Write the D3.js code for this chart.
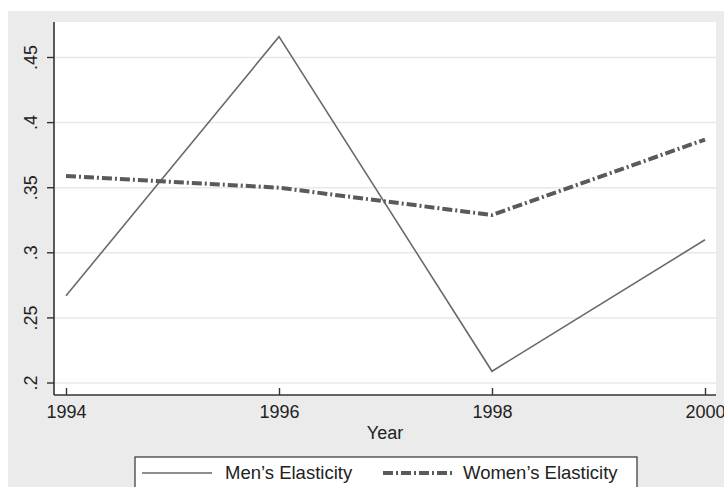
<!DOCTYPE html>
<html>
<head>
<meta charset="utf-8">
<script src="https://cdn.jsdelivr.net/npm/d3@7"></script>
<style>
  body { margin: 0; background: #fff; }
  text { font-family: "Liberation Sans", Arial, sans-serif; fill: #222; }
</style>
</head>
<body>
<div class="chart"></div>
<script>
// data
var years = [1994, 1996, 1998, 2000];
var menElasticity = [0.267, 0.466, 0.209, 0.310];
var womenElasticity = [0.359, 0.350, 0.329, 0.387];
var yTicks = [0.2, 0.25, 0.3, 0.35, 0.4, 0.45];
var yTickLabels = [".2", ".25", ".3", ".35", ".4", ".45"];
var seriesNames = ["Men\u2019s Elasticity", "Women\u2019s Elasticity"];

var svgWidth = 724;
var svgHeight = 487;

// plot region
var plot = { left: 54, right: 716, top: 22, bottom: 395 };

var svg = d3.select(".chart")
  .append("svg")
  .attr("width", svgWidth)
  .attr("height", svgHeight);

// outer gray background
svg.append("rect")
  .attr("x", 8)
  .attr("y", 11)
  .attr("width", svgWidth - 8)
  .attr("height", svgHeight - 11)
  .attr("fill", "#ebebeb");

// white plot area
svg.append("rect")
  .attr("x", plot.left)
  .attr("y", plot.top)
  .attr("width", plot.right - plot.left)
  .attr("height", plot.bottom - plot.top)
  .attr("fill", "#ffffff");

var x = d3.scaleLinear()
  .domain([1994, 2000])
  .range([66, 705]);

var y = d3.scaleLinear()
  .domain([0.2, 0.45])
  .range([383, 57.5]);

// grid lines
svg.append("g")
  .selectAll("line")
  .data(yTicks)
  .enter()
  .append("line")
  .attr("x1", plot.left)
  .attr("x2", plot.right)
  .attr("y1", d => y(d))
  .attr("y2", d => y(d))
  .attr("stroke", "#e8e8e8")
  .attr("stroke-width", 1.5);

// y axis
var leftAxis = d3.axisLeft(y)
  .tickValues(yTicks)
  .tickFormat((d, i) => yTickLabels[i])
  .tickSize(7)
  .tickSizeOuter(0)
  .tickPadding(6);

var yAxis = svg.append("g")
  .attr("transform", `translate(${plot.left}, 0)`)
  .call(leftAxis);

yAxis.select(".domain")
  .attr("d", `M0,${plot.top}V${plot.bottom}`);

// rotated labels: place each around its tick
yAxis.selectAll(".tick")
  .each(function(d) {
    var t = d3.select(this);
    var yy = y(d);
    t.attr("transform", null);
    t.select("line").attr("y1", yy).attr("y2", yy);
    t.select("text")
      .attr("transform", `translate(-17, ${yy}) rotate(-90)`)
      .attr("x", 0)
      .attr("y", 0)
      .attr("dy", 0)
      .attr("text-anchor", "middle");
  });

// x axis
var bottomAxis = d3.axisBottom(x)
  .tickValues(years)
  .tickFormat(d3.format("d"))
  .tickSize(7)
  .tickSizeOuter(0)
  .tickPadding(3);

var xAxis = svg.append("g")
  .attr("transform", `translate(0, ${plot.bottom})`)
  .call(bottomAxis);

xAxis.select(".domain")
  .attr("d", `M${plot.left},0H${plot.right}`);

xAxis.selectAll(".tick line")
  .attr("y1", -7)
  .attr("y2", 0);

[yAxis, xAxis].forEach(function(ax) {
  ax.selectAll(".domain")
    .attr("stroke", "#333")
    .attr("stroke-width", 1.6);
  ax.selectAll(".tick line")
    .attr("stroke", "#333")
    .attr("stroke-width", 1.4);
  ax.selectAll("text")
    .attr("font-size", "18px")
    .attr("fill", "#222")
    .style("font-family", "'Liberation Sans', Arial, sans-serif");
});

xAxis.selectAll("text").attr("dy", "0.71em");

// axis title
svg.append("text")
  .attr("x", (plot.left + plot.right) / 2)
  .attr("y", 439)
  .attr("text-anchor", "middle")
  .attr("font-size", "18px")
  .text("Year");

// lines
var line = d3.line()
  .x((d, i) => x(years[i]))
  .y(d => y(d));

svg.append("path")
  .datum(menElasticity)
  .attr("d", line)
  .attr("fill", "none")
  .attr("stroke", "#6a6a6a")
  .attr("stroke-width", 1.6);

svg.append("path")
  .datum(womenElasticity)
  .attr("d", line)
  .attr("fill", "none")
  .attr("stroke", "#5a5a5a")
  .attr("stroke-width", 4)
  .attr("stroke-dasharray", "10,3,2,3");

// legend
var legend = svg.append("g");

legend.append("rect")
  .attr("x", 135)
  .attr("y", 457)
  .attr("width", 502)
  .attr("height", 40)
  .attr("fill", "#ffffff")
  .attr("stroke", "#333")
  .attr("stroke-width", 1.2);

legend.append("line")
  .attr("x1", 142)
  .attr("x2", 212)
  .attr("y1", 473)
  .attr("y2", 473)
  .attr("stroke", "#6a6a6a")
  .attr("stroke-width", 1.6);

legend.append("text")
  .attr("x", 225)
  .attr("y", 479)
  .attr("font-size", "18.5px")
  .text(seriesNames[0]);

legend.append("line")
  .attr("x1", 383)
  .attr("x2", 453)
  .attr("y1", 473)
  .attr("y2", 473)
  .attr("stroke", "#5a5a5a")
  .attr("stroke-width", 4)
  .attr("stroke-dasharray", "10,3,2,3");

legend.append("text")
  .attr("x", 463)
  .attr("y", 479)
  .attr("font-size", "18.5px")
  .text(seriesNames[1]);
</script>
</body>
</html>
